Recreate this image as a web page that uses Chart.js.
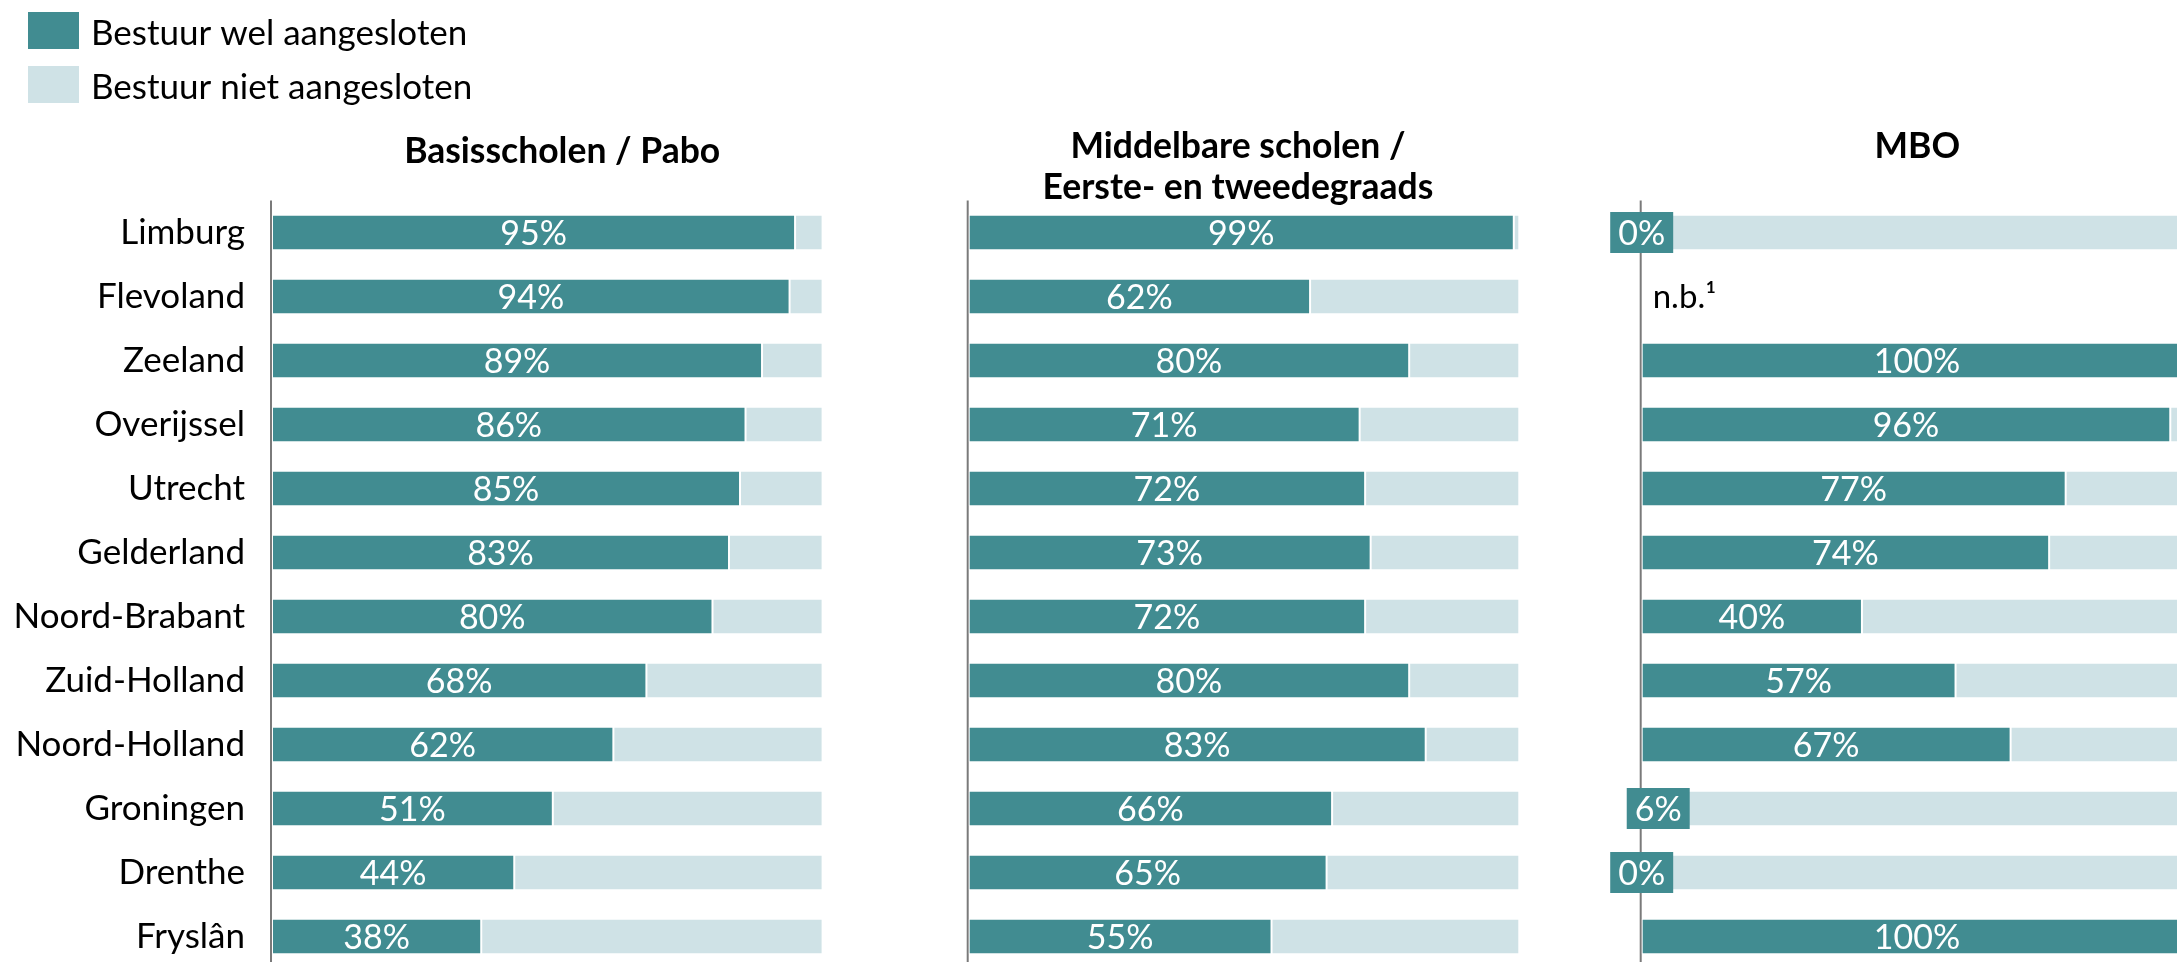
<!DOCTYPE html>
<html><head><meta charset="utf-8">
<script src="https://cdn.jsdelivr.net/npm/chart.js@4.4.1/dist/chart.umd.min.js"></script>
<style>
html,body{margin:0;padding:0;width:2177px;height:962px;overflow:hidden;background:#fff}
#wrap{position:relative;width:2177px;height:962px;overflow:hidden}
canvas{display:block}
</style></head><body>
<div id="wrap"><canvas id="c" width="2177" height="970"></canvas></div>
<script>
// ---- data ----
const categories = ['Limburg','Flevoland','Zeeland','Overijssel','Utrecht','Gelderland','Noord-Brabant','Zuid-Holland','Noord-Holland','Groningen','Drenthe','Fryslân'];
const seriesNames = ['Bestuur wel aangesloten','Bestuur niet aangesloten'];
const panelTitles = [['Basisscholen / Pabo'], ['Middelbare scholen /','Eerste- en tweedegraads'], ['MBO']];
const basisWel = [95,94,89,86,85,83,80,68,62,51,44,38];
const basisNiet = [5,6,11,14,15,17,20,32,38,49,56,62];
const middelbaarWel = [99,62,80,71,72,73,72,80,83,66,65,55];
const middelbaarNiet = [1,38,20,29,28,27,28,20,17,34,35,45];
const mboWel = [0,null,100,96,77,74,40,57,67,6,0,100];
const mboNiet = [100,null,0,4,23,26,60,43,33,94,100,0];
const missingLabel = 'n.b.\u00B9';

// ---- styling / layout ----
const DARK = '#418c91';
const LIGHT = '#cfe2e6';
const AXIS = '#7a7a7a';
const FONT = 'Lato, "Open Sans", sans-serif';
const CANVAS_H = 970;
const GEOM = { left: 272, right: 2177, top: 200.5, bottom: 968.5, zero: [272, 968.7, 1641.7], full: 550.6 };
const TITLE_X = [52.7, 48.9, 50.05];          // value on each panel scale where the title is centred
const TITLE_BASE = [[163], [158, 199], [158]]; // baselines in px

const panels = [[basisWel, basisNiet], [middelbaarWel, middelbaarNiet], [mboWel, mboNiet]];

const datasets = [];
panels.forEach((pair, p) => {
  pair.forEach((arr, k) => {
    datasets.push({
      label: seriesNames[k],
      data: arr,
      xAxisID: 'x' + p,
      yAxisID: 'y',
      backgroundColor: k === 0 ? DARK : LIGHT,
      borderColor: '#ffffff',
      borderWidth: 1,
      borderSkipped: false,
      grouped: false,
      categoryPercentage: 1,
      barPercentage: 0.555
    });
  });
});

const scales = {
  y: {
    type: 'category',
    labels: categories,
    offset: true,
    grid: { display: false, drawTicks: false },
    border: { display: false },
    ticks: { color: '#000', font: { family: FONT, size: 35 }, padding: 27, autoSkip: false },
    afterFit: (s) => { s.width = GEOM.left; s.paddingTop = 0; s.paddingBottom = 0; }
  }
};
[0,1,2].forEach(p => {
  const w = GEOM.full / 100;
  scales['x' + p] = {
    type: 'linear',
    stacked: true,
    display: false,
    min: -(GEOM.zero[p] - GEOM.left) / w,
    max: (GEOM.right - GEOM.zero[p]) / w
  };
});

const panelPlugin = {
  id: 'panelPlugin',
  beforeDatasetsDraw(chart) {
    const ctx = chart.ctx, a = chart.chartArea;
    ctx.save();
    ctx.strokeStyle = AXIS; ctx.lineWidth = 2;
    [0,1,2].forEach(p => {
      const x = chart.scales['x' + p].getPixelForValue(0) - 1;
      ctx.beginPath(); ctx.moveTo(x, a.top); ctx.lineTo(x, a.bottom); ctx.stroke();
    });
    ctx.restore();
  },
  afterDatasetsDraw(chart) {
    const ctx = chart.ctx;
    const ys = chart.scales.y;
    ctx.save();
    // value labels
    [0,1,2].forEach(p => {
      const xs = chart.scales['x' + p];
      const x0 = xs.getPixelForValue(0);
      const vals = chart.data.datasets[p * 2].data;
      vals.forEach((v, i) => {
        const y = ys.getPixelForValue(i);
        if (v == null) {
          ctx.font = '33px ' + FONT;
          ctx.fillStyle = '#000'; ctx.textAlign = 'left'; ctx.textBaseline = 'middle';
          ctx.fillText(missingLabel, x0 + 11, y + 1);
          return;
        }
        ctx.font = '34px ' + FONT;
        const x1 = xs.getPixelForValue(v);
        const cx = (x0 + x1) / 2;
        const text = v + '%';
        const tw = ctx.measureText(text).width;
        if (x1 - x0 < tw + 6) {
          ctx.fillStyle = DARK;
          ctx.fillRect(cx - tw / 2 - 8, y - 20.5, tw + 16, 41);
        }
        ctx.fillStyle = '#fff'; ctx.textAlign = 'center'; ctx.textBaseline = 'middle';
        ctx.fillText(text, cx, y + 1.5);
      });
    });
    // panel titles
    ctx.font = 'bold 35.5px ' + FONT;
    ctx.fillStyle = '#000'; ctx.textAlign = 'center'; ctx.textBaseline = 'alphabetic';
    panelTitles.forEach((lines, p) => {
      const cx = chart.scales['x' + p].getPixelForValue(TITLE_X[p]);
      lines.forEach((ln, j) => ctx.fillText(ln, cx, TITLE_BASE[p][j]));
    });
    // legend
    const legendRows = [{ c: DARK, y: 12 }, { c: LIGHT, y: 66 }];
    ctx.font = '35px ' + FONT; ctx.textAlign = 'left';
    legendRows.forEach((r, k) => {
      ctx.fillStyle = r.c; ctx.fillRect(28, r.y, 51, 37);
      ctx.fillStyle = '#000'; ctx.fillText(seriesNames[k], 91, r.y + 33);
    });
    ctx.restore();
  }
};

new Chart(document.getElementById('c'), {
  type: 'bar',
  data: { labels: categories, datasets },
  options: {
    indexAxis: 'y',
    responsive: false,
    animation: false,
    layout: { padding: { top: GEOM.top, bottom: CANVAS_H - GEOM.bottom, left: 0, right: 0 } },
    scales,
    plugins: { legend: { display: false }, tooltip: { enabled: false }, title: { display: false } }
  },
  plugins: [panelPlugin]
});
</script>
</body></html>
